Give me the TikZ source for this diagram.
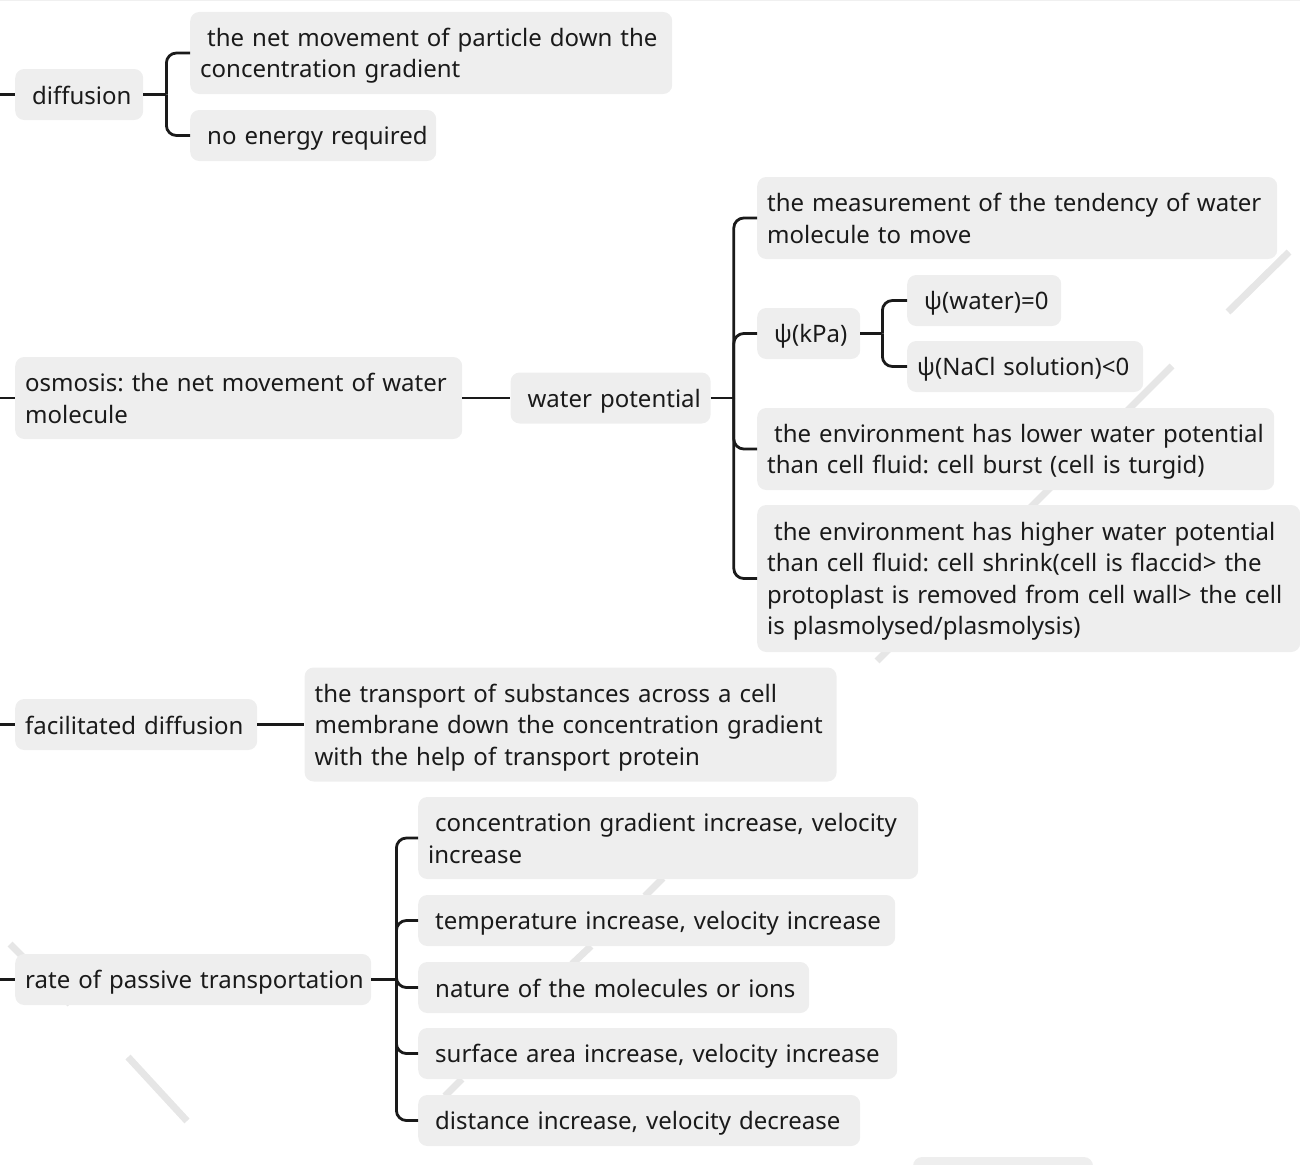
\documentclass[tikz,border=0pt]{standalone}
\usepackage{fontspec}
\setmainfont{Noto Sans}
\usetikzlibrary{positioning}

\definecolor{topicgray}{HTML}{EEEEEE}
\definecolor{markgray}{HTML}{E6E6E6}
\definecolor{inkblack}{HTML}{1A1A1A}
\newcommand{\lead}{\hspace*{7pt}}
\newcommand{\tstrut}{\vrule height 24pt depth 5pt width 0pt\relax}
\newcommand{\topicpar}{\frenchspacing\hyphenpenalty=10000\relax
	\rightskip=0pt plus 1fil minus 14pt\relax}

\begin{document}
\begin{tikzpicture}[x=1pt,y=-1pt,node distance=47pt]
	\tikzstyle{topic}=[fill=topicgray,rounded corners=9pt,anchor=west,align=left,
		inner xsep=10pt,inner ysep=0pt,minimum height=51pt,text=inkblack,
		font=\fontsize{24}{31.5}\selectfont,
		execute at begin node=\topicpar\tstrut,execute at end node=\tstrut]
	\tikzstyle{conn}=[draw=inkblack,line width=2.8pt,rounded corners=10pt]
	\tikzstyle{wmark}=[draw=markgray,line width=7pt]

	\useasboundingbox (0,0) rectangle (1300,1164);
	\draw[gray!12,line width=1pt] (0,0.5) -- (1300,0.5);

	\draw[wmark] (1228,312) -- (1289,252);
	\draw[wmark] (1172,366) -- (877,661);
	\draw[wmark] (663,878) -- (645,896);
	\draw[wmark] (591,946) -- (572,964);
	\draw[wmark] (462,1079) -- (445,1096);
	\draw[wmark] (10,944) -- (70,1004);
	\draw[wmark] (128,1057) -- (187,1121);

	\node[topic,text width=108pt] (diff) at (15,94.5) {\lead diffusion};
	\node[topic,text width=462pt,minimum height=82pt] (dnet) at (190,53)
		{\lead the net movement of particle down the\\concentration gradient};
	\node[topic,text width=226pt] (dnoe) at (190,135.5) {\lead no energy required};

	\node[topic,text width=427pt,minimum height=82pt] (osm) at (15,398)
		{osmosis: the net movement of water\\molecule};
	\node[topic,text width=180pt] (wp) [right=48pt of osm] {\lead water potential};
	\node[topic,text width=500pt,minimum height=82pt] (wmeas) at (757,218)
		{the measurement of the tendency of water\\molecule to move};
	\node[topic,text width=83pt] (kpa) at (757,333.5) {\lead ψ(kPa)};
	\node[topic,text width=134pt] (kw) at (907,300.5) {\lead ψ(water)=0};
	\node[topic,text width=216pt] (kna) at (907,366.5) {ψ(NaCl solution)<0};
	\node[topic,text width=497pt,minimum height=82pt] (wlow) at (757,449)
		{\lead the environment has lower water potential\\than cell fluid: cell burst (cell is turgid)};
	\node[topic,text width=523pt,minimum height=147pt] (whigh) at (757,578.5)
		{\lead the environment has higher water potential\\than cell fluid: cell shrink(cell is flaccid> the\\protoplast is removed from cell wall> the cell\\is plasmolysed/plasmolysis)};

	\node[topic,text width=222pt] (fd) at (15,724.5) {facilitated diffusion};
	\node[topic,text width=512pt,minimum height=114pt] (fdt) [right=of fd]
		{the transport of substances across a cell\\membrane down the concentration gradient\\with the help of transport protein};

	\node[topic,text width=336pt] (rate) at (15,979.5) {rate of passive transportation};
	\node[topic,text width=480pt,minimum height=82pt] (rcon) at (418,838)
		{\lead concentration gradient increase, velocity\\increase};
	\node[topic,text width=457pt] (rtem) at (418,920.5) {\lead temperature increase, velocity increase};
	\node[topic,text width=371pt] (rnat) at (418,987.5) {\lead nature of the molecules or ions};
	\node[topic,text width=459pt] (rsur) at (418,1053.5) {\lead surface area increase, velocity increase};
	\node[topic,text width=422pt] (rdis) at (418,1120.5) {\lead distance increase, velocity decrease};

	\fill[topicgray,rounded corners=9pt] (913,1157) rectangle (1093,1200);

	\coordinate (rootD) at (0,94.5);
	\coordinate (rootO) at (0,398);
	\coordinate (rootF) at (0,724.5);
	\coordinate (rootR) at (0,979.5);
	\draw[conn] (rootD) -- (diff.west);
	\draw[conn] (rootO) -- (osm.west);
	\draw[conn] (rootF) -- (fd.west);
	\draw[conn] (rootR) -- (rate.west);

	\draw[conn] (diff.east) -- ++(23,0);
	\foreach \c in {dnet,dnoe}
		\draw[conn] (diff.east) ++(23,0) |- (\c.west);

	\draw[conn] (osm.east) -- (wp.west);
	\draw[conn] (wp.east) -- ++(23,0);
	\foreach \c in {wmeas,kpa,wlow,whigh}
		\draw[conn] (wp.east) ++(23,0) |- (\c.west);
	\draw[conn] (kpa.east) -- ++(22,0);
	\foreach \c in {kw,kna}
		\draw[conn] (kpa.east) ++(22,0) |- (\c.west);

	\draw[conn] (fd.east) -- (fdt.west);

	\draw[conn] (rate.east) -- ++(25,0);
	\foreach \c in {rcon,rtem,rnat,rsur,rdis}
		\draw[conn] (rate.east) ++(25,0) |- (\c.west);
\end{tikzpicture}
\end{document}
